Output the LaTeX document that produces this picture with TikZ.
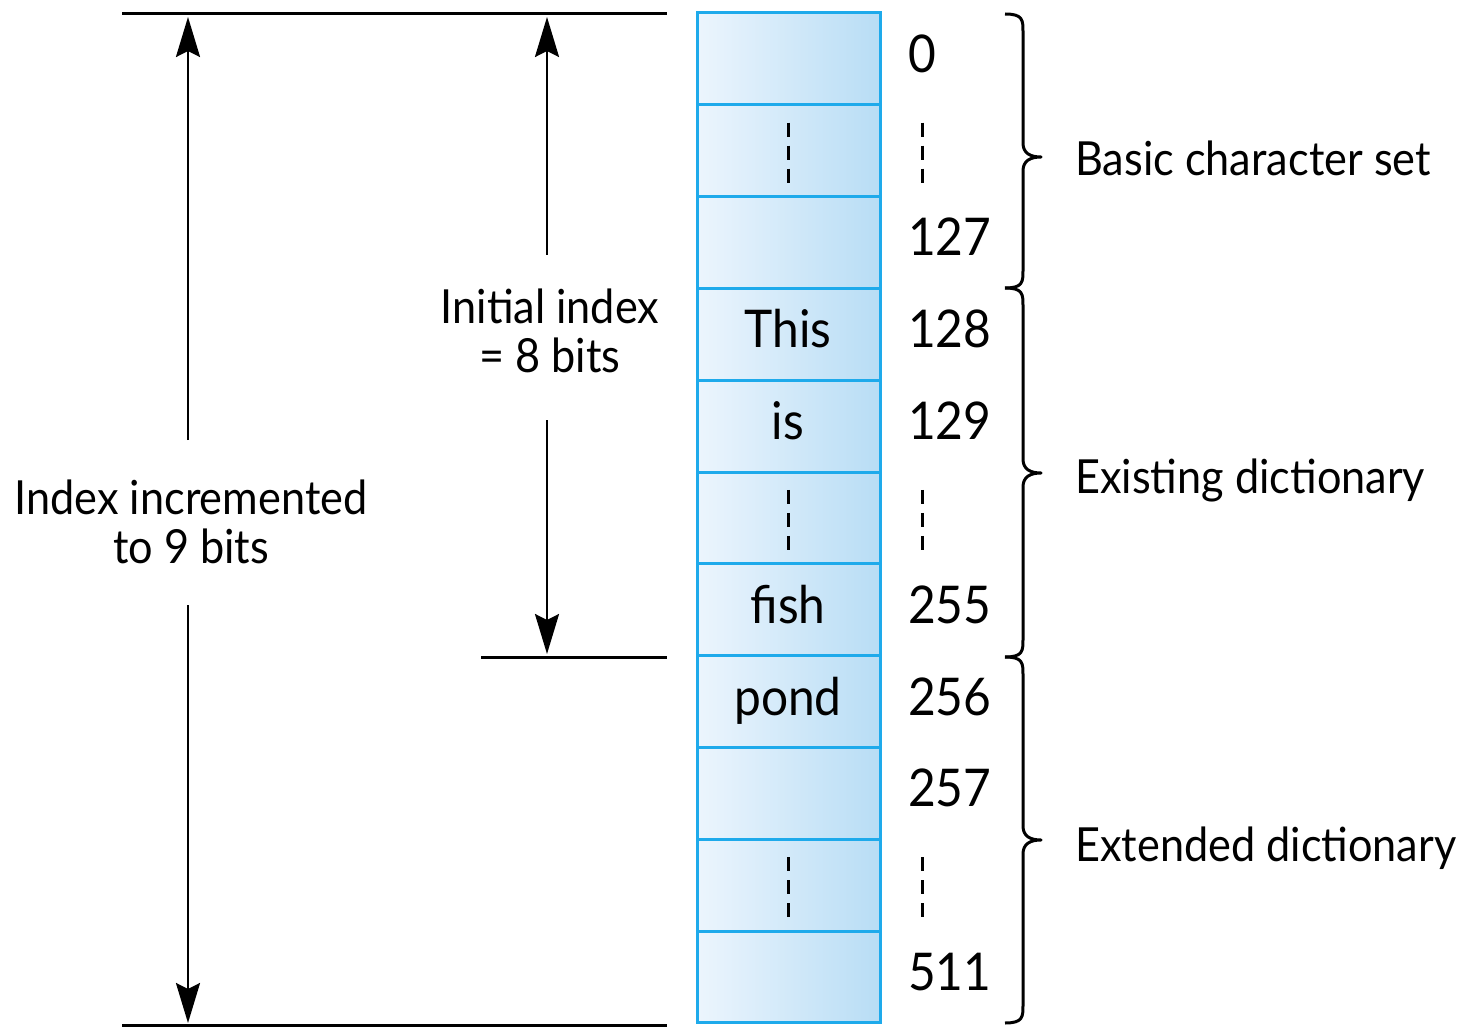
\documentclass[tikz,border=0pt]{standalone}
\usepackage{fontspec}
\setmainfont{Lato}[FakeStretch=0.92]
\usetikzlibrary{arrows.meta}
\definecolor{cellblue}{RGB}{30,170,235}
\definecolor{fillL}{RGB}{236,245,253}
\definecolor{fillR}{RGB}{184,221,245}
\begin{document}
\begin{tikzpicture}[x=1pt,y=-1pt,
  cellbox/.style={draw=cellblue,line width=3pt,left color=fillL,right color=fillR,
    minimum width=183pt,minimum height=91.8pt,inner sep=0pt,outer sep=0pt},
  celltext/.style={anchor=base,font=\fontsize{52}{56}\selectfont,inner sep=0pt},
  numtext/.style={anchor=base west,font=\fontsize{52}{56}\selectfont,inner sep=0pt},
  lbltext/.style={font=\fontsize{47}{49}\selectfont,inner sep=0pt,align=center},
  sidetext/.style={anchor=base west,font=\fontsize{47}{49}\selectfont,inner sep=0pt},
  dashmark/.style={line width=3pt,dash pattern=on 14pt off 9pt},
  refline/.style={line width=3pt},
  dimarrow/.style={line width=2.6pt,-{Stealth[length=40pt,width=24pt,inset=6pt]}},
  bracestyle/.style={line width=3pt,line join=round}]
\useasboundingbox (0,0) rectangle (1465,1027);
% cells
\foreach \i in {0,...,10}{
  \node[cellbox] (c\i) at (788.5,{13+91.8*(\i+0.5)}) {};
}
% cell texts
\node[celltext] (tThis) at (788,347.8) {This};
\node[celltext] (tIs)   at (788,439.6) {is};
\node[celltext] (tFish) at (788,623.2) {fish};
\node[celltext] (tPond) at (788,715.0) {pond};
% dashes in cells and number column
\foreach \y/\n in {151.7/a,518.9/b,886.1/c}{
  \coordinate (cdT\n) at (788,\y-29);
  \coordinate (cdB\n) at (788,\y+31);
  \draw[dashmark] (cdT\n) -- (cdB\n);
  \coordinate (ndT\n) at (922,\y-29);
  \coordinate (ndB\n) at (922,\y+31);
  \draw[dashmark] (ndT\n) -- (ndB\n);
}
% numbers
\node[numtext] (n0)   at (908,72.4)  {0};
\node[numtext] (n127) at (908,256.0) {127};
\node[numtext] (n128) at (908,347.8) {128};
\node[numtext] (n129) at (908,439.6) {129};
\node[numtext] (n255) at (908,623.2) {255};
\node[numtext] (n256) at (908,715.0) {256};
\node[numtext] (n257) at (908,806.8) {257};
\node[numtext] (n511) at (908,990.4) {511};
% braces (start / tip / end)
\foreach \s/\t/\e in {14/157/288, 288/473/657, 657/840/1023}{
  \draw[bracestyle] (1005,\s) .. controls (1023,\s) and (1023,\s+6) .. (1023,\s+18)
     -- (1023,\t-14) .. controls (1023,\t-4) and (1030,\t) .. (1041,\t)
     .. controls (1030,\t) and (1023,\t+4) .. (1023,\t+14)
     -- (1023,\e-18) .. controls (1023,\e-6) and (1023,\e) .. (1005,\e);
}
\node[sidetext] (lBasic) at (1075,176) {Basic character set};
\node[sidetext] (lExist) at (1075,493) {Existing dictionary};
\node[sidetext] (lExt)   at (1075,861) {Extended dictionary};
% reference lines
\coordinate (topL) at (122,14);
\coordinate (topR) at (667,14);
\coordinate (midL) at (481,657);
\coordinate (midR) at (667,657);
\coordinate (botL) at (122,1025);
\coordinate (botR) at (667,1025);
\draw[refline] (topL) -- (topR);
\draw[refline] (midL) -- (midR);
\draw[refline] (botL) -- (botR);
% dimension labels
\node[lbltext] (lblOuter) at (191,522) {Index incremented\\to 9 bits};
\node[lbltext] (lblInner) at (550,331) {Initial index\\= 8 bits};
% dimension arrows
\coordinate (oTopS) at (188,440);
\coordinate (oTopE) at (188,17);
\coordinate (oBotS) at (188,605);
\coordinate (oBotE) at (188,1023);
\coordinate (iTopS) at (547,255);
\coordinate (iTopE) at (547,17);
\coordinate (iBotS) at (547,420);
\coordinate (iBotE) at (547,654);
\draw[dimarrow] (oTopS) -- (oTopE);
\draw[dimarrow] (oBotS) -- (oBotE);
\draw[dimarrow] (iTopS) -- (iTopE);
\draw[dimarrow] (iBotS) -- (iBotE);
\end{tikzpicture}
\end{document}
